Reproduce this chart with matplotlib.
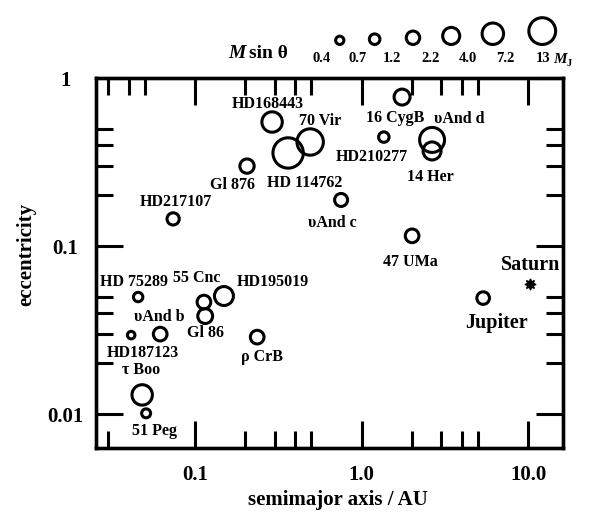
import numpy as np
import matplotlib
matplotlib.use("Agg")
import matplotlib.pyplot as plt
from matplotlib import ticker, transforms

plt.rcParams["font.family"] = ["Liberation Serif", "DejaVu Serif"]
plt.rcParams["font.weight"] = "bold"

# --- data ---------------------------------------------------------------
names = [
    "HD168443", "70 Vir", "HD 114762", "Gl 876", "HD217107",
    "16 CygB", "HD210277", "υAnd d", "14 Her", "υAnd c", "47 UMa",
    "HD 75289", "55 Cnc", "HD195019", "Gl 86", "υAnd b", "HD187123",
    "ρ CrB", "τ Boo", "51 Peg", "Jupiter",
]
semimajor = [
    0.290, 0.491, 0.362, 0.205, 0.0738,
    1.75, 1.36, 2.65, 2.65, 0.753, 2.01,
    0.0455, 0.113, 0.149, 0.115, 0.0617, 0.0413,
    0.236, 0.0481, 0.0508, 5.37,
]
eccentricity = [
    0.547, 0.416, 0.358, 0.299, 0.145,
    0.77, 0.445, 0.428, 0.368, 0.188, 0.115,
    0.0497, 0.0464, 0.0504, 0.0383, 0.0299, 0.0295,
    0.0287, 0.0130, 0.0101, 0.049,
]
msini = [
    4.7, 9.3, 13.6, 1.9, 1.3,
    2.5, 0.9, 8.0, 3.4, 1.5, 1.7,
    0.7, 1.7, 3.9, 2.1, 1.7, 0.43,
    1.7, 4.7, 0.63, 1.4,
]
saturn_a, saturn_e = 10.3, 0.0594

legend_values = [0.4, 0.7, 1.2, 2.2, 4.0, 7.2, 13]
legend_labels = ["0.4", "0.7", "1.2", "2.2", "4.0", "7.2", "13"]

x_ticks = [0.1, 1.0, 10.0]
x_tick_labels = ["0.1", "1.0", "10.0"]
y_ticks = [0.01, 0.1, 1]
y_tick_labels = ["0.01", "0.1", "1"]

# label offsets from the circle centre, in pixels (right, down)
label_offsets = [
    (-4, -18), (10, -21), (17, 30), (-15, 19), (3, -17),
    (-7, 21), (-12, 20), (27, -21), (-2, 26), (-9, 23), (-2, 26),
    (-4, -15), (-7, -24), (49, -14), (0, 17), (-1, -17), (12, 18),
    (5, 20), (-1, -25), (8, 18), (13, 25),
]

DPI = 100
PX = 72 / DPI
LW = 2.2


def outer_radius(m):
    return 7.0 * np.cbrt(np.asarray(m, dtype=float))


def marker_area(m):
    d = 2 * outer_radius(m) * PX - LW
    return d ** 2


fig = plt.figure(figsize=(5.92, 5.14), dpi=DPI)
W, H = 592, 514
ax = fig.add_axes([96 / W, 1 - 448 / H, 467 / W, 370 / H])
ax.set_xscale("log")
ax.set_yscale("log")
ax.set_xlim(0.0254, 16.2)
ax.set_ylim(0.00628, 1)

ax.scatter(semimajor, eccentricity, s=marker_area(msini), facecolors="none",
           edgecolors="black", linewidths=LW, zorder=3)
ax.plot(saturn_a, saturn_e, marker=(8, 1, 0), ms=8, color="black", zorder=3)

for name, a, e, (dx, dy) in zip(names, semimajor, eccentricity, label_offsets):
    size = 14.5 if name == "Jupiter" else 11.5
    ax.annotate(name, (a, e), xytext=(dx * PX, -dy * PX),
                textcoords="offset points", ha="center", va="center",
                fontsize=size, fontweight="bold")
ax.annotate("Saturn", (saturn_a, saturn_e), xytext=(0, 19 * PX),
            textcoords="offset points", ha="center", va="center",
            fontsize=14.5, fontweight="bold", zorder=4)

# ticks
ax.xaxis.set_major_locator(ticker.FixedLocator(x_ticks))
ax.xaxis.set_major_formatter(ticker.FixedFormatter(x_tick_labels))
ax.xaxis.set_minor_locator(ticker.FixedLocator([0.03, 0.2, 0.3, 0.4, 0.5, 2, 3, 4, 5]))
ax.xaxis.set_minor_formatter(ticker.NullFormatter())
ax.yaxis.set_major_locator(ticker.FixedLocator(y_ticks))
ax.yaxis.set_major_formatter(ticker.FixedFormatter(y_tick_labels))
ax.yaxis.set_minor_locator(ticker.LogLocator(base=10, subs=(2, 3, 4, 5)))
ax.yaxis.set_minor_formatter(ticker.NullFormatter())

ax.tick_params(which="both", direction="in", width=LW, right=True, top=False)
ax.tick_params(which="major", length=19.4)
ax.tick_params(which="minor", length=12.2)
ax.tick_params(axis="x", which="major", pad=12, labelsize=15)
ax.tick_params(axis="y", which="major", pad=22, labelsize=15)
for t in ax.get_yticklabels():
    t.set_ha("center")
for sp in ax.spines.values():
    sp.set_linewidth(2.4)

ax_top = ax.twiny()
ax_top.set_xscale("log")
ax_top.set_xlim(ax.get_xlim())
ax_top.xaxis.set_major_locator(ticker.FixedLocator(x_ticks))
ax_top.xaxis.set_minor_locator(ticker.LogLocator(base=10, subs=(2, 3, 4, 5)))
ax_top.xaxis.set_minor_formatter(ticker.NullFormatter())
ax_top.tick_params(which="both", direction="in", width=LW, labeltop=False)
ax_top.tick_params(which="major", length=19.4)
ax_top.tick_params(which="minor", length=12.2)
for sp in ax_top.spines.values():
    sp.set_linewidth(2.4)

fig.text(338 / W, 1 - 500 / H, "semimajor axis / AU", ha="center", va="center",
         fontsize=15, fontweight="bold")
fig.text(26 / W, 1 - 254 / H, "eccentricity", ha="center", va="center",
         rotation=90, fontsize=15, fontweight="bold")

# size legend on top
lax = fig.add_axes([200 / W, 1 - 70 / H, 392 / W, 70 / H])
lax.set_xscale("log")
per_dec = 221 / np.log10(13 / 0.4)
lax.set_xlim(0.4 / 10 ** (122 / per_dec), 13 * 10 ** ((392 - 343) / per_dec))
lax.set_ylim(70, 0)
lax.axis("off")
for v, lab in zip(legend_values, legend_labels):
    lax.text(v, 59, lab, ha="center", va="center", fontsize=10.5, fontweight="bold")
legend_mid = np.sqrt(np.array(legend_values[:-1]) * np.array(legend_values[1:]))
legend_shift = [0, 0, 2, 2, 6, 18]
for m, shift in zip(legend_mid, legend_shift):
    tr = transforms.offset_copy(lax.transData, fig=fig, x=shift * PX, y=0, units="points")
    lax.scatter([m], [46 - outer_radius(m)], s=marker_area(m), facecolors="none",
                edgecolors="black", linewidths=LW, transform=tr, clip_on=False)
fig.text(228 / W, 1 - 58 / H, "M", ha="left", va="baseline", fontsize=14,
         fontweight="bold", style="italic")
fig.text(249 / W, 1 - 58 / H, "sin θ", ha="left", va="baseline", fontsize=14,
         fontweight="bold")
fig.text(553 / W, 1 - 63 / H, "M", ha="left", va="baseline", fontsize=11,
         fontweight="bold", style="italic")
fig.text(567 / W, 1 - 66 / H, "J", ha="left", va="baseline", fontsize=7.5,
         fontweight="bold")

fig.savefig("out.png", dpi=DPI)
